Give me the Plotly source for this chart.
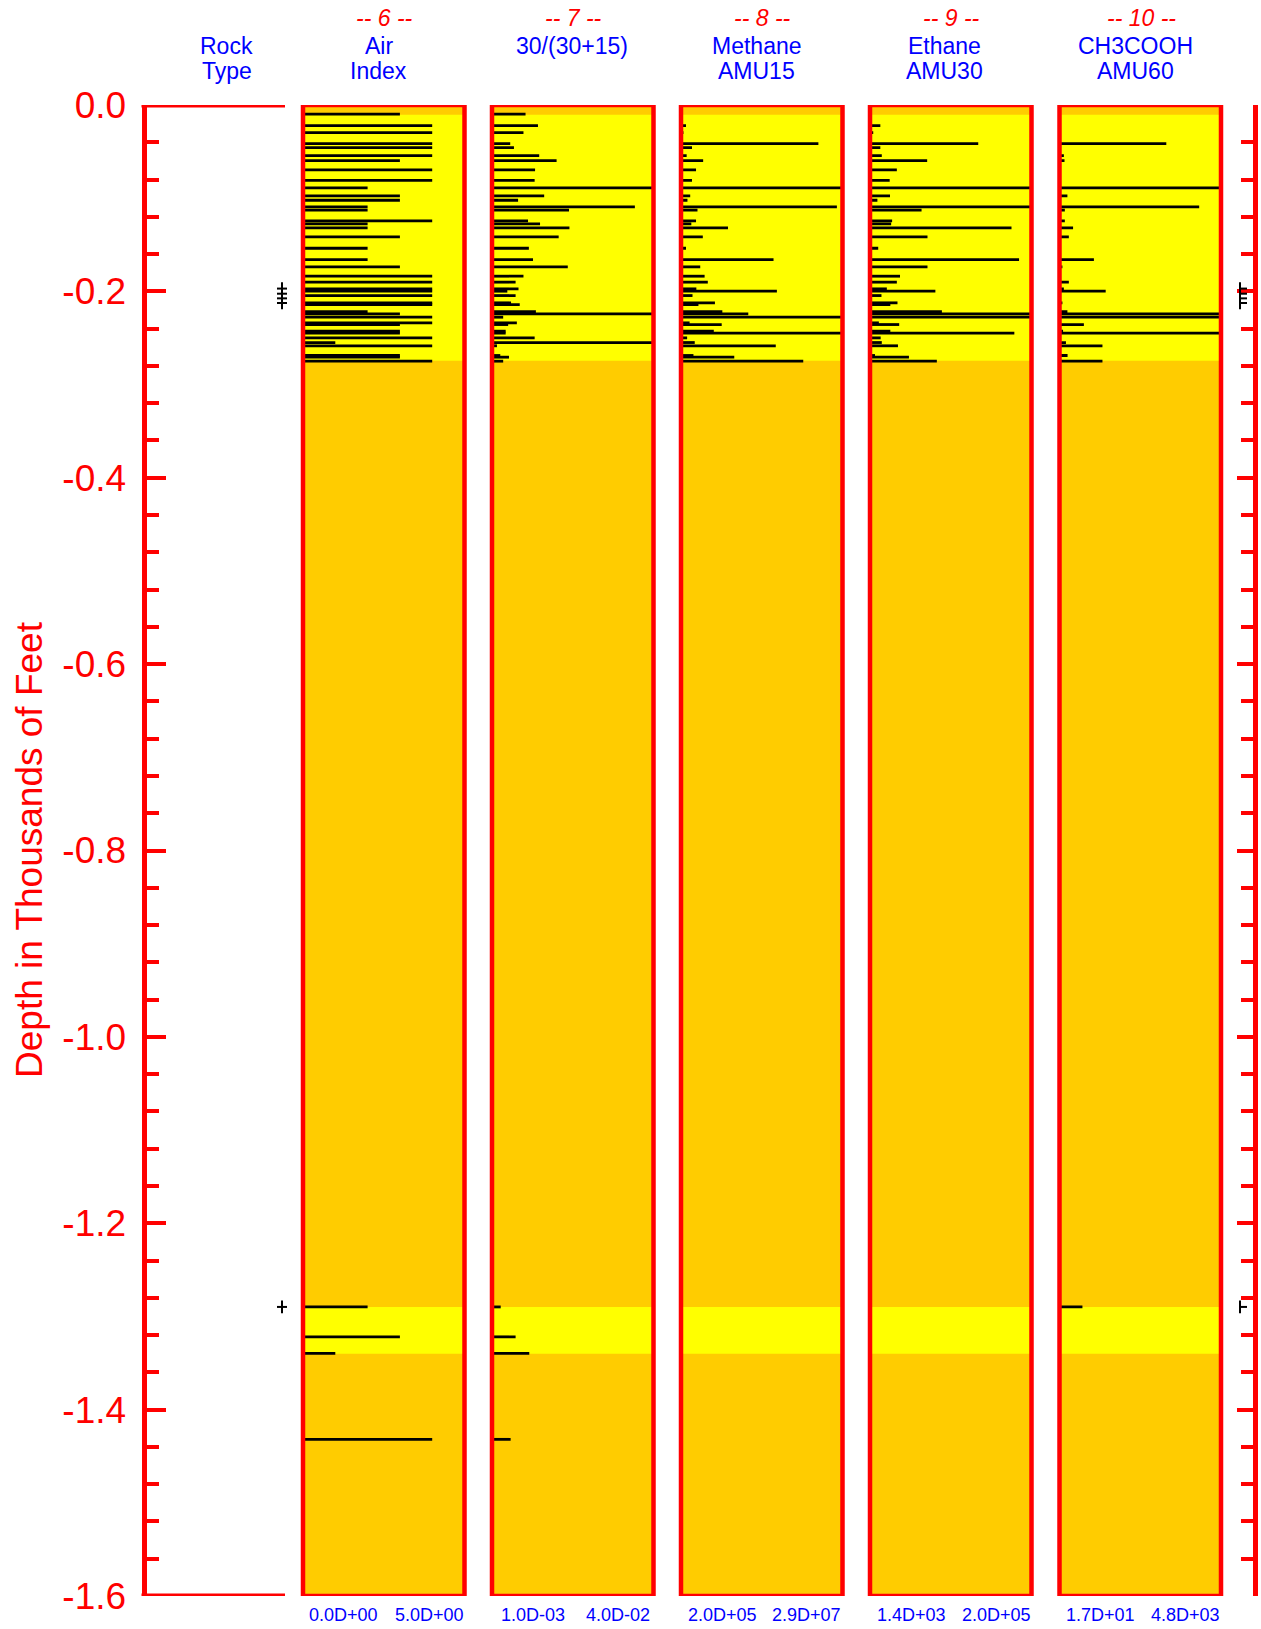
import plotly.graph_objects as go

W, H = 1261, 1629

# ---------------- data (depth in thousands of feet) ----------------
depth = [0.0097, 0.0222, 0.0297, 0.0415, 0.0458, 0.0544, 0.0597, 0.0697, 0.0808, 0.0890,
         0.0976, 0.1022, 0.1094, 0.1129, 0.1244, 0.1276, 0.1319, 0.1416, 0.1537, 0.1659,
         0.1737, 0.1837, 0.1901, 0.1973, 0.1998, 0.2045, 0.2123, 0.2142, 0.2217, 0.2241,
         0.2277, 0.2338, 0.2356, 0.2427, 0.2448, 0.2499, 0.2549, 0.2584, 0.2688, 0.2706,
         0.2749, 1.2898, 1.3219, 1.3397, 1.4319]

air_index = [3, 4, 4, 4, 4, 4, 3, 4, 4, 2,
             3, 3, 2, 2, 4, 2, 2, 3, 2, 2,
             3, 4, 4, 4, 4, 4, 4, 4, 2, 3,
             4, 4, 3, 3, 3, 4, 1, 4, 3, 3,
             4, 2, 3, 1, 4]

ratio_30_45 = [0.0091, 0.0121, 0.0086, 0.0054, 0.0063, 0.0124, 0.0166, 0.0114, 0.0113, 0.0400,
               0.0136, 0.0073, 0.0355, 0.0196, 0.0097, 0.0126, 0.0197, 0.0171, 0.0099, 0.0109,
               0.0193, 0.0086, 0.0067, 0.0074, 0.0047, 0.0067, 0.0056, 0.0077, 0.0116, 0.0400,
               0.0037, 0.0070, 0.0049, 0.0043, 0.0043, 0.0113, 0.0400, 0.0022, 0.0030, 0.0051,
               0.0037, 0.0031, 0.0067, 0.0100, 0.0055]

methane_amu15 = [2.0e5, 1.09e6, 6.3e5, 2.47e7, 2.16e6, 1.21e6, 4.15e6, 2.88e6, 2.16e6, 2.9e7,
                 1.84e6, 1.35e6, 2.80e7, 3.14e6, 2.88e6, 2.04e6, 8.58e6, 4.09e6, 1.09e6, 1.67e7,
                 3.63e6, 4.41e6, 4.98e6, 2.94e6, 1.73e7, 2.25e6, 6.25e6, 3.31e6, 7.57e6, 1.22e7,
                 2.9e7, 1.73e6, 7.46e6, 6.05e6, 2.9e7, 1.29e6, 2.65e6, 1.71e7, 2.42e6, 9.70e6,
                 2.20e7, 3.4e5, 2.0e5, 2.0e5, 2.0e5]

ethane_amu30 = [1.4e3, 1.41e4, 5.37e3, 1.345e5, 1.41e4, 1.59e4, 7.17e4, 3.44e4, 2.56e4, 2.0e5,
                2.60e4, 1.05e4, 2.0e5, 6.48e4, 2.86e4, 2.74e4, 1.754e5, 7.21e4, 1.15e4, 1.847e5,
                7.21e4, 3.83e4, 3.44e4, 2.21e4, 8.18e4, 1.55e4, 3.52e4, 2.64e4, 8.98e4, 2.0e5,
                2.0e5, 1.23e4, 3.73e4, 2.64e4, 1.789e5, 1.45e4, 1.59e4, 3.58e4, 7.56e3, 4.93e4,
                8.36e4, 1.4e3, 1.4e3, 1.4e3, 1.4e3]

ch3cooh_amu60 = [17, 41, 17, 3180, 17, 146, 165, 17, 17, 4800,
                 251, 41, 4154, 175, 175, 17, 419, 294, 17, 1036,
                 103, 17, 294, 146, 1385, 17, 103, 17, 251, 4800,
                 4800, 17, 739, 122, 4800, 17, 208, 1289, 256, 17,
                 1289, 696, 17, 17, 17]

series = [air_index, ratio_30_45, methane_amu15, ethane_amu30, ch3cooh_amu60]
panel_numbers = ["-- 6 --", "-- 7 --", "-- 8 --", "-- 9 --", "-- 10 --"]
panel_title_1 = ["Air", "30/(30+15)", "Methane", "Ethane", "CH3COOH"]
panel_title_2 = ["Index", "", "AMU15", "AMU30", "AMU60"]
scale_min = [0.0, 1.0e-3, 2.0e5, 1.4e3, 1.7e1]
scale_max = [5.0, 4.0e-2, 2.9e7, 2.0e5, 4.8e3]
scale_min_labels = ["0.0D+00", "1.0D-03", "2.0D+05", "1.4D+03", "1.7D+01"]
scale_max_labels = ["5.0D+00", "4.0D-02", "2.9D+07", "2.0D+05", "4.8D+03"]

band_top = [0.0105, 1.2898]
band_bottom = [0.2745, 1.3400]
rock_mark_depth = [0.1970, 0.2025, 0.2075, 0.2125, 1.2898]

depth_ticks = [0.0, 0.2, 0.4, 0.6, 0.8, 1.0, 1.2, 1.4, 1.6]
depth_tick_labels = ["0.0", "-0.2", "-0.4", "-0.6", "-0.8", "-1.0", "-1.2", "-1.4", "-1.6"]
minor_step = 0.04
depth_max = 1.6

# ---------------- layout geometry (pixels) ----------------
RED = "#ff0000"
BLUE = "#0000ff"
ORANGE = "#ffcc00"
YELLOW = "#ffff00"
FONT = "Liberation Sans, Arial, sans-serif"

Y_TOP, Y_BOT = 105, 1596
AXIS_LINE_X = 144
AXIS_LW = 5
ROCK_RIGHT = 285
RIGHT_AXIS_X = 1255
panel_left = [303, 492, 681, 870, 1059.5]
panel_w = 161.5
title_x = [378.5, 571.5, 756.5, 944.5, 1135.5]

def px(x):
    return x / W

def py(y):
    return 1 - y / H

ydom = [py(Y_BOT), py(Y_TOP)]

fig = go.Figure()

# dummy traces to anchor axes
fig.add_trace(go.Scatter(x=[None], y=[None], xaxis="x", yaxis="y", showlegend=False, hoverinfo="skip"))
fig.add_trace(go.Scatter(x=[None], y=[None], xaxis="x", yaxis="y2", showlegend=False, hoverinfo="skip"))

for i, vals in enumerate(series):
    xs, ys = [], []
    for d, v in zip(depth, vals):
        xs += [scale_min[i], v, None]
        ys += [-d, -d, None]
    fig.add_trace(go.Scatter(x=xs, y=ys, mode="lines", line=dict(color="black", width=2.8),
                             xaxis=f"x{i+2}", yaxis="y", showlegend=False, hoverinfo="skip"))

minor_vals = []
k = 0
while k * minor_step <= depth_max + 1e-9:
    minor_vals.append(-round(k * minor_step, 4))
    k += 1

layout = dict(
    template="none",
    width=W, height=H, autosize=False,
    margin=dict(l=0, r=0, t=0, b=0, pad=0),
    paper_bgcolor="white", plot_bgcolor="white",
    showlegend=False,
    xaxis=dict(domain=[px(AXIS_LINE_X + AXIS_LW / 2), px(ROCK_RIGHT)], range=[0, 1], visible=False,
               fixedrange=True, automargin=False),
    yaxis=dict(domain=ydom, range=[-depth_max, 0], anchor="x", automargin=False,
               showline=True, linecolor=RED, linewidth=AXIS_LW,
               ticks="inside", ticklen=19, tickwidth=4, tickcolor=RED,
               tickvals=[-t for t in depth_ticks], ticktext=depth_tick_labels,
               tickfont=dict(family=FONT, size=37, color=RED),
               ticklabelstandoff=8,
               minor=dict(ticks="inside", ticklen=12, tickwidth=4, tickcolor=RED, tickvals=minor_vals),
               showgrid=False, zeroline=False, fixedrange=True),
    yaxis2=dict(domain=ydom, range=[-depth_max, 0], overlaying="y", anchor="free",
                position=px(RIGHT_AXIS_X), side="right", automargin=False,
                showline=True, linecolor=RED, linewidth=4.5,
                ticks="inside", ticklen=16, tickwidth=4, tickcolor=RED,
                tickvals=[-t for t in depth_ticks], showticklabels=False,
                minor=dict(ticks="inside", ticklen=12, tickwidth=4, tickcolor=RED, tickvals=minor_vals),
                showgrid=False, zeroline=False, fixedrange=True),
)
for i in range(5):
    layout[f"xaxis{i+2}"] = dict(domain=[px(panel_left[i]), px(panel_left[i] + panel_w)],
                                 range=[scale_min[i], scale_max[i]], anchor="y",
                                 visible=False, fixedrange=True, automargin=False)
fig.update_layout(**layout)

shapes = []
# rock type panel top / bottom lines
for yv in [0, -depth_max]:
    shapes.append(dict(type="line", xref="paper", yref="y", x0=px(AXIS_LINE_X - AXIS_LW / 2), x1=px(ROCK_RIGHT),
                       y0=yv, y1=yv, line=dict(color=RED, width=5), layer="above"))
for i in range(5):
    x0, x1 = px(panel_left[i]), px(panel_left[i] + panel_w)
    shapes.append(dict(type="rect", xref="paper", yref="y", x0=x0, x1=x1, y0=-depth_max, y1=0,
                       fillcolor=ORANGE, line=dict(width=0), layer="below"))
    for bt, bb in zip(band_top, band_bottom):
        shapes.append(dict(type="rect", xref="paper", yref="y", x0=x0, x1=x1, y0=-bb, y1=-bt,
                           fillcolor=YELLOW, line=dict(width=0), layer="below"))
    shapes.append(dict(type="rect", xref="paper", yref="y", x0=x0, x1=x1, y0=-depth_max, y1=0,
                       fillcolor="rgba(0,0,0,0)", line=dict(color=RED, width=4.5), layer="above"))
# rock-type sample markers (left and right)
half = 0.0068
for d in rock_mark_depth:
    shapes.append(dict(type="line", xref="paper", yref="y", x0=px(282), x1=px(282),
                       y0=-d - half, y1=-d + half, line=dict(color="black", width=2), layer="above"))
    shapes.append(dict(type="line", xref="paper", yref="y", x0=px(277), x1=px(287),
                       y0=-d, y1=-d, line=dict(color="black", width=2), layer="above"))
    shapes.append(dict(type="line", xref="paper", yref="y", x0=px(1240), x1=px(1240),
                       y0=-d - half, y1=-d + half, line=dict(color="black", width=2), layer="above"))
    shapes.append(dict(type="line", xref="paper", yref="y", x0=px(1240), x1=px(1247),
                       y0=-d, y1=-d, line=dict(color="black", width=2), layer="above"))
fig.update_layout(shapes=shapes)

ann = []
def text(x, y, s, size, color, italic=False, angle=0):
    ann.append(dict(x=px(x), y=py(y), xref="paper", yref="paper", text=(f"<i>{s}</i>" if italic else s),
                    showarrow=False, xanchor="center", yanchor="middle", textangle=angle,
                    font=dict(family=FONT, size=size, color=color)))

text(226.5, 46, "Rock", 23, BLUE)
text(226.5, 71, "Type", 23, BLUE)
for i in range(5):
    cx = panel_left[i] + panel_w / 2
    text(cx + 1, 17.5, panel_numbers[i], 23, RED, italic=True)
    text(title_x[i], 46, panel_title_1[i], 23, BLUE)
    if panel_title_2[i]:
        text(title_x[i], 71, panel_title_2[i], 23, BLUE)
    text(panel_left[i] + 41, 1615, scale_min_labels[i], 18, BLUE)
    text(panel_left[i] + 126, 1615, scale_max_labels[i], 18, BLUE)
text(29, 850, "Depth in Thousands of Feet", 37, RED, angle=-90)
fig.update_layout(annotations=ann)

# the page's default 8px body margin would push the figure off its 1261x1629 frame
fig.write_html("out.html", config={"displayModeBar": False},
               post_script="document.body.style.margin='0px';document.body.style.overflow='hidden';")
